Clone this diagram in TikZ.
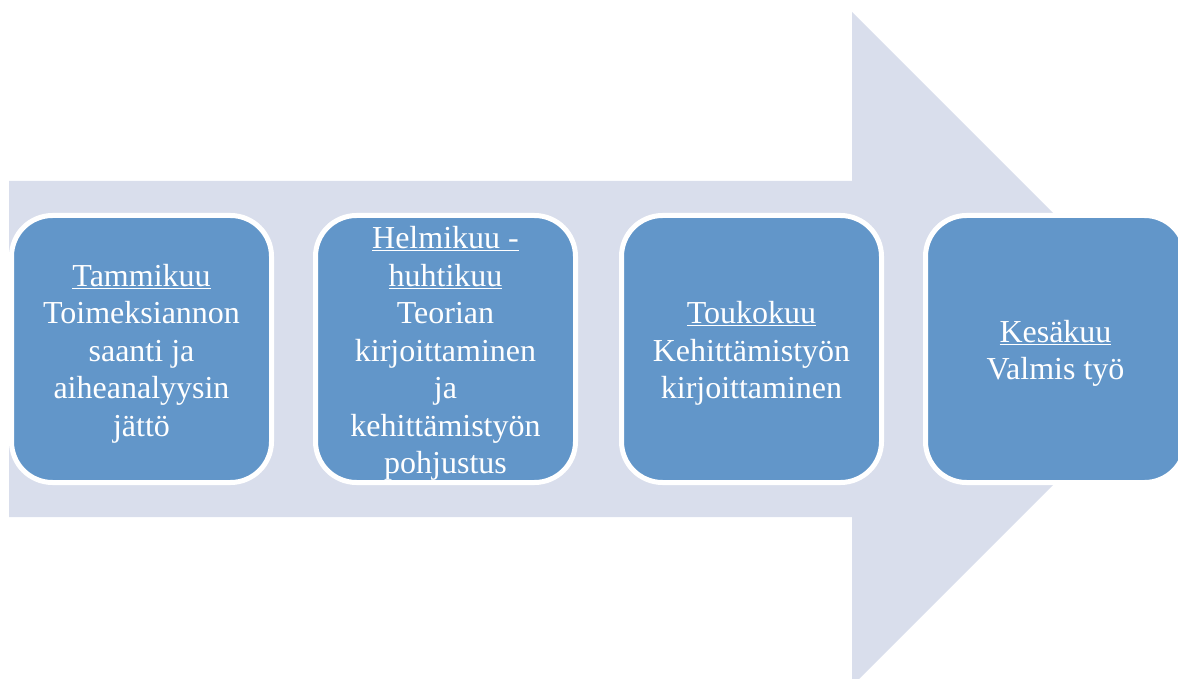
\documentclass[tikz,border=0pt]{standalone}
\usepackage{fontspec}
\setmainfont{Liberation Serif}
\definecolor{arrowfill}{RGB}{217,222,236}
\definecolor{stagefill}{RGB}{98,150,201}
\begin{document}
\begin{tikzpicture}[x=1pt,y=-1pt,
  stagebox/.style={rectangle, rounded corners=41pt, fill=stagefill, draw=white,
    line width=5pt, minimum width=260pt, minimum height=267pt, inner sep=0pt},
  stagetext/.style={text=white, align=center, inner sep=0pt,
    font=\fontsize{32}{37.5}\selectfont, yshift=-4.5pt}]
\useasboundingbox (0,0) rectangle (1178,679);
\clip (0,0) rectangle (1178,679);

% big background arrow
\fill[arrowfill] (9,181) -- (852,181) -- (852,12) -- (1189,349)
  -- (852,686) -- (852,517) -- (9,517) -- cycle;

% stage boxes
\node[stagebox] (b1) at (141.5,349) {};
\node[stagebox] (b2) at (445.5,349) {};
\node[stagebox] (b3) at (751.5,349) {};
\node[stagebox] (b4) at (1055.5,349) {};

% stage texts
\node[stagetext] (t1) at (b1.center) {\strut\underline{Tammikuu}\\
  \strut Toimeksiannon\\ \strut saanti ja\\ \strut aiheanalyysin\\ \strut jättö};
\node[stagetext] (t2) at (b2.center) {\strut\underline{Helmikuu -}\\
  \strut\underline{huhtikuu}\\ \strut Teorian\\ \strut kirjoittaminen\\
  \strut ja\\ \strut kehittämistyön\\ \strut pohjustus};
\node[stagetext] (t3) at (b3.center) {\strut\underline{Toukokuu}\\
  \strut Kehittämistyön\\ \strut kirjoittaminen};
\node[stagetext] (t4) at (b4.center) {\strut\underline{Kesäkuu}\\
  \strut Valmis työ};
\end{tikzpicture}
\end{document}
